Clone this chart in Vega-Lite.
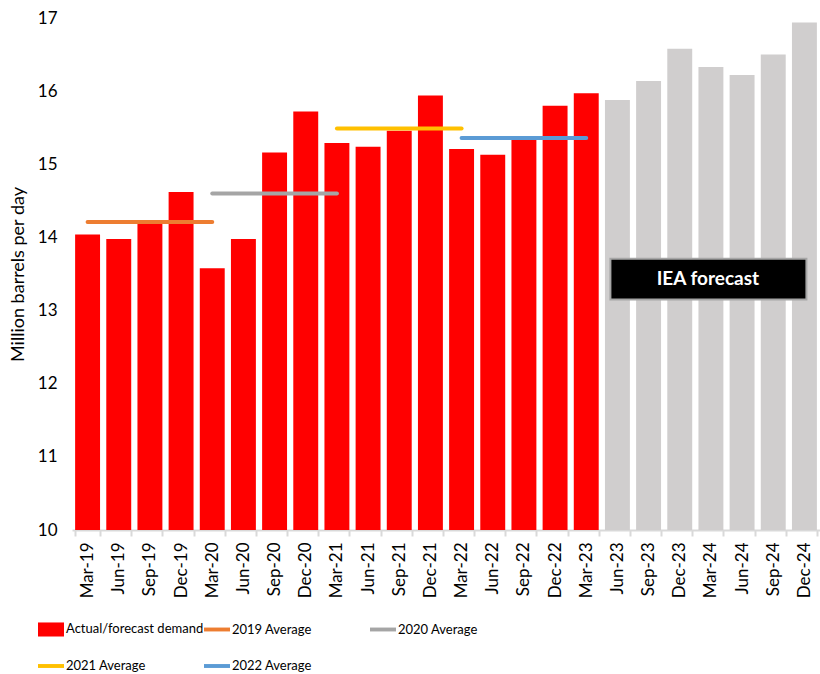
{
  "$schema": "https://vega.github.io/schema/vega-lite/v6.json",
  "width": 748,
  "height": 512,
  "autosize": {"type": "none"},
  "padding": {"left": 72, "top": 18, "right": 0, "bottom": 144},
  "config": {
    "view": {"stroke": null},
    "font": "Lato",
    "axis": {"grid": false, "labelFont": "Lato", "titleFont": "Lato", "labelColor": "#000000", "titleColor": "#000000"}
  },
  "datasets": {
    "bars": [
      {"period": "Mar-19", "value": 14.04, "type": "actual"},
      {"period": "Jun-19", "value": 13.98, "type": "actual"},
      {"period": "Sep-19", "value": 14.19, "type": "actual"},
      {"period": "Dec-19", "value": 14.62, "type": "actual"},
      {"period": "Mar-20", "value": 13.58, "type": "actual"},
      {"period": "Jun-20", "value": 13.98, "type": "actual"},
      {"period": "Sep-20", "value": 15.16, "type": "actual"},
      {"period": "Dec-20", "value": 15.72, "type": "actual"},
      {"period": "Mar-21", "value": 15.29, "type": "actual"},
      {"period": "Jun-21", "value": 15.24, "type": "actual"},
      {"period": "Sep-21", "value": 15.46, "type": "actual"},
      {"period": "Dec-21", "value": 15.94, "type": "actual"},
      {"period": "Mar-22", "value": 15.21, "type": "actual"},
      {"period": "Jun-22", "value": 15.13, "type": "actual"},
      {"period": "Sep-22", "value": 15.35, "type": "actual"},
      {"period": "Dec-22", "value": 15.8, "type": "actual"},
      {"period": "Mar-23", "value": 15.97, "type": "actual"},
      {"period": "Jun-23", "value": 15.88, "type": "forecast"},
      {"period": "Sep-23", "value": 16.14, "type": "forecast"},
      {"period": "Dec-23", "value": 16.58, "type": "forecast"},
      {"period": "Mar-24", "value": 16.33, "type": "forecast"},
      {"period": "Jun-24", "value": 16.22, "type": "forecast"},
      {"period": "Sep-24", "value": 16.5, "type": "forecast"},
      {"period": "Dec-24", "value": 16.94, "type": "forecast"}
    ],
    "averages": [
      {"series": "2019 Average", "period": "Mar-19", "value": 14.21},
      {"series": "2019 Average", "period": "Mar-20", "value": 14.21},
      {"series": "2020 Average", "period": "Mar-20", "value": 14.6},
      {"series": "2020 Average", "period": "Mar-21", "value": 14.6},
      {"series": "2021 Average", "period": "Mar-21", "value": 15.49},
      {"series": "2021 Average", "period": "Mar-22", "value": 15.49},
      {"series": "2022 Average", "period": "Mar-22", "value": 15.36},
      {"series": "2022 Average", "period": "Mar-23", "value": 15.36}
    ],
    "note": [
      {"label": "IEA forecast", "start": "Jun-23", "end": "Dec-24", "center": "Mar-24", "low": 13.15, "high": 13.71, "mid": 13.43}
    ]
  },
  "encoding": {
    "x": {
      "field": "period",
      "type": "ordinal",
      "scale": {
        "domain": ["Mar-19","Jun-19","Sep-19","Dec-19","Mar-20","Jun-20","Sep-20","Dec-20","Mar-21","Jun-21","Sep-21","Dec-21","Mar-22","Jun-22","Sep-22","Dec-22","Mar-23","Jun-23","Sep-23","Dec-23","Mar-24","Jun-24","Sep-24","Dec-24"],
        "paddingInner": 0.2,
        "paddingOuter": 0.1
      },
      "axis": {
        "title": null,
        "labelAngle": -90,
        "labelAlign": "right",
        "labelBaseline": "middle",
        "labelFontSize": 17,
        "labelPadding": 6,
        "tickBand": "extent",
        "tickColor": "#d9d9d9",
        "tickWidth": 2,
        "tickSize": 6,
        "domainColor": "#d9d9d9",
        "domainWidth": 2
      }
    }
  },
  "layer": [
    {
      "data": {"name": "bars"},
      "transform": [{"filter": "datum.type === 'actual'"}, {"calculate": "'Actual/forecast demand'", "as": "series"}],
      "mark": {"type": "bar"},
      "encoding": {
        "y": {
          "field": "value",
          "type": "quantitative",
          "scale": {"domain": [10, 17], "zero": false, "nice": false},
          "axis": {
            "title": "Million barrels per day",
            "titleFontSize": 18,
            "titleFontWeight": "normal",
            "titlePadding": 10,
            "values": [10, 11, 12, 13, 14, 15, 16, 17],
            "format": "d",
            "labelFontSize": 17,
            "ticks": false,
            "domain": false,
            "labelPadding": 15
          }
        },
        "y2": {"datum": 10},
        "color": {
          "field": "series",
          "type": "nominal",
          "scale": {
            "domain": ["Actual/forecast demand", "2019 Average", "2020 Average", "2021 Average", "2022 Average"],
            "range": ["#ff0000", "#ed7d31", "#a5a5a5", "#ffc000", "#5b9bd5"]
          },
          "legend": {
            "title": null,
            "orient": "none",
            "legendX": -34,
            "legendY": 598,
            "direction": "horizontal",
            "columns": 3,
            "gridAlign": "all",
            "labelFontSize": 13,
            "labelFont": "Lato",
            "labelColor": "#000000",
            "labelLimit": 300,
            "symbolSize": 676,
            "symbolOffset": 0,
            "labelOffset": 2,
            "rowPadding": 16,
            "columnPadding": 0,
            "encode": {
              "symbols": {
                "update": {
                  "shape": {"signal": "datum.value === 'Actual/forecast demand' ? 'M-1,-0.54H1V0.54H-1Z' : 'M-1,-0.15H1V0.15H-1Z'"},
                  "fill": {"signal": "scale('color', datum.value)"},
                  "stroke": {"value": "transparent"},
                  "strokeWidth": {"value": 0},
                  "opacity": {"value": 1},
                  "fillOpacity": {"value": 1}
                }
              }
            }
          }
        }
      }
    },
    {
      "data": {"name": "bars"},
      "transform": [{"filter": "datum.type === 'forecast'"}],
      "mark": {"type": "bar", "color": "#d0cece"},
      "encoding": {
        "y": {"field": "value", "type": "quantitative"},
        "y2": {"datum": 10}
      }
    },
    {
      "data": {"name": "averages"},
      "mark": {"type": "line", "strokeWidth": 4, "strokeCap": "round"},
      "encoding": {
        "y": {"field": "value", "type": "quantitative"},
        "color": {"field": "series", "type": "nominal"}
      }
    },
    {
      "data": {"name": "note"},
      "mark": {"type": "rect", "color": "#000000", "stroke": "#a6a6a6", "strokeWidth": 2, "xOffset": -7, "x2Offset": 2},
      "encoding": {
        "x": {"field": "start", "type": "ordinal"},
        "x2": {"field": "end"},
        "y": {"field": "low", "type": "quantitative"},
        "y2": {"field": "high"}
      }
    },
    {
      "data": {"name": "note"},
      "mark": {"type": "text", "color": "#ffffff", "fontSize": 19, "fontWeight": "bold", "font": "Lato", "dx": -3, "baseline": "middle", "align": "center"},
      "encoding": {
        "x": {"field": "center", "type": "ordinal"},
        "y": {"field": "mid", "type": "quantitative"},
        "text": {"field": "label"}
      }
    }
  ]
}
